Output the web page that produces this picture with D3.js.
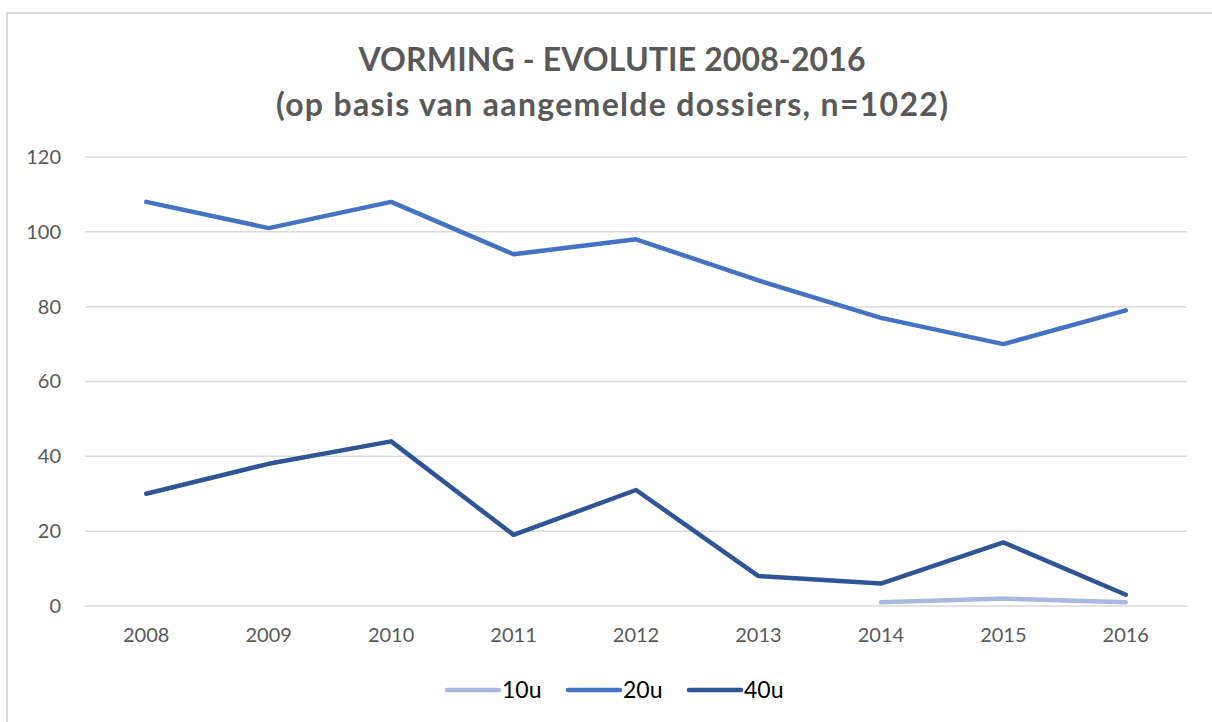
<!DOCTYPE html>
<html><head><meta charset="utf-8">
<script src="https://cdn.jsdelivr.net/npm/d3@7"></script>
<style>body{margin:0;background:#fff}svg{display:block}</style>
</head><body>
<script>
const years = ["2008","2009","2010","2011","2012","2013","2014","2015","2016"];
const yTicks = [0,20,40,60,80,100,120];
const series10u = [null,null,null,null,null,null,1,2,1];
const series20u = [108,101,108,94,98,87,77,70,79];
const series40u = [30,38,44,19,31,8,6,17,3];
const seriesNames = ["10u","20u","40u"];
const seriesColors = ["#A9B8DE","#4472C4","#2F5597"];

const W=1212,H=722;
const svg=d3.select("body").append("svg").attr("width",W).attr("height",H);
svg.append("rect").attr("x",7).attr("y",13).attr("width",W).attr("height",H).attr("fill","none").attr("stroke","#d9d9d9").attr("stroke-width",2);

const font="Lato, 'Open Sans', sans-serif";
const t=svg.append("g").attr("font-family",font).attr("font-weight","bold").attr("font-size",32).attr("fill","#595959").attr("text-anchor","middle");
t.append("text").attr("x",612).attr("y",71).attr("textLength",507).attr("lengthAdjust","spacing").text("VORMING - EVOLUTIE 2008-2016");
t.append("text").attr("x",612).attr("y",116).attr("textLength",672).attr("lengthAdjust","spacing").text("(op basis van aangemelde dossiers, n=1022)");

const x=d3.scaleBand().domain(years).range([85,1187]);
const y=d3.scaleLinear().domain([0,120]).range([606,157]);

const grid=svg.append("g");
grid.selectAll("line").data(yTicks).join("line")
 .attr("x1",85).attr("x2",1187).attr("y1",d=>y(d)).attr("y2",d=>y(d))
 .attr("stroke","#d9d9d9").attr("stroke-width",1.5);

const yAxis=svg.append("g").attr("transform","translate(61,0)")
 .call(d3.axisLeft(y).tickValues(yTicks).tickSize(0).tickPadding(0));
yAxis.select(".domain").remove();
yAxis.selectAll("text").attr("font-family",font).attr("font-size",20).attr("fill","#595959");

const xAxis=svg.append("g").attr("transform","translate(0,622)")
 .call(d3.axisBottom(x).tickSize(0).tickPadding(6));
xAxis.select(".domain").remove();
xAxis.selectAll("text").attr("font-family",font).attr("font-size",20).attr("fill","#595959").attr("dy","0.71em");

const data=[series10u,series20u,series40u];
const line=d3.line().defined(d=>d!=null).x((d,i)=>x(years[i])+x.bandwidth()/2).y(d=>y(d));
data.forEach((s,k)=>{
  svg.append("path").datum(s).attr("d",line).attr("fill","none")
   .attr("stroke",seriesColors[k]).attr("stroke-width",4.5)
   .attr("stroke-linecap","round").attr("stroke-linejoin","round");
});

const legX=[445,566,687];
seriesNames.forEach((n,k)=>{
  const g=svg.append("g");
  g.append("line").attr("x1",legX[k]+2).attr("x2",legX[k]+54).attr("y1",690).attr("y2",690)
   .attr("stroke",seriesColors[k]).attr("stroke-width",4.5).attr("stroke-linecap","round");
  g.append("text").attr("x",legX[k]+57).attr("y",698).attr("font-family",font).attr("font-size",23).attr("fill","#000").text(n);
});
</script>
</body></html>
